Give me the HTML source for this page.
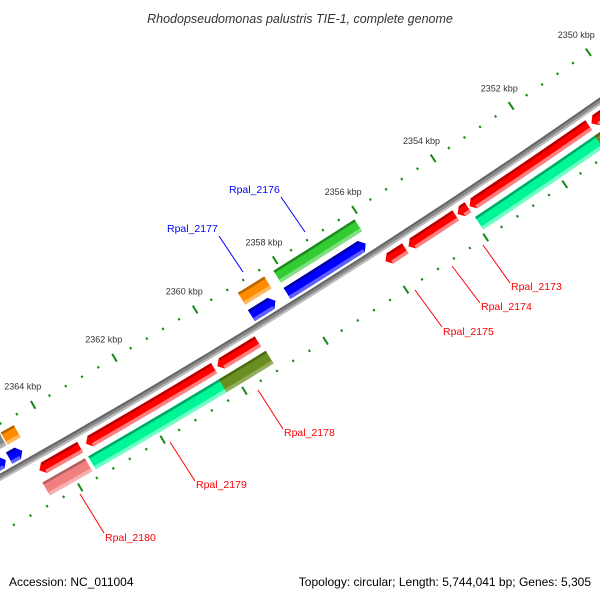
<!DOCTYPE html>
<html><head><meta charset="utf-8"><style>
html,body{margin:0;padding:0;background:#fff;}
svg{display:block;font-family:"Liberation Sans","DejaVu Sans",sans-serif;}
</style></head><body>
<svg id="map" width="600" height="600" viewBox="0 0 600 600" xmlns="http://www.w3.org/2000/svg">
<rect x="0" y="0" width="600" height="600" fill="#fff"/>
<text x="300" y="23" text-anchor="middle" font-size="12.5" font-style="italic" fill="#333">Rhodopseudomonas palustris TIE-1, complete genome</text>
<g id="ticks"></g>
<g id="backbone"></g>
<g id="features"></g>
<g id="labels" font-size="10.5">
<line x1="483" y1="245" x2="510" y2="283" stroke="#f00" stroke-width="1"/>
<text x="511" y="290" fill="#f00">Rpal_2173</text>
<line x1="452" y1="266" x2="480" y2="303" stroke="#f00" stroke-width="1"/>
<text x="481" y="310" fill="#f00">Rpal_2174</text>
<line x1="415" y1="290" x2="442" y2="327" stroke="#f00" stroke-width="1"/>
<text x="443" y="335" fill="#f00">Rpal_2175</text>
<line x1="258" y1="390" x2="283" y2="429" stroke="#f00" stroke-width="1"/>
<text x="284" y="436" fill="#f00">Rpal_2178</text>
<line x1="170" y1="442" x2="195" y2="481" stroke="#f00" stroke-width="1"/>
<text x="196" y="488" fill="#f00">Rpal_2179</text>
<line x1="80" y1="494" x2="104" y2="533" stroke="#f00" stroke-width="1"/>
<text x="105" y="541" fill="#f00">Rpal_2180</text>
<line x1="281" y1="197" x2="305" y2="232" stroke="#00f" stroke-width="1"/>
<text x="229" y="193" fill="#00f">Rpal_2176</text>
<line x1="219" y1="236" x2="243" y2="272" stroke="#00f" stroke-width="1"/>
<text x="167" y="232" fill="#00f">Rpal_2177</text>
</g>
<text x="9" y="586" font-size="12" fill="#000">Accession: NC_011004</text>
<text x="591" y="586" font-size="12" text-anchor="end" fill="#000">Topology: circular; Length: 5,744,041 bp; Genes: 5,305</text>
</svg>
<script>
// data (kbp)
const tickLabels = [2350, 2352, 2354, 2356, 2358, 2360, 2362, 2364];
const featStart = [2349.3, 2350.88, 2353.96, 2354.27, 2355.54, 2359.22, 2360.30, 2363.58,
  2349.3, 2350.91, 2359.18, 2360.34, 2363.61,
  2356.19, 2358.45, 2364.68, 2365.08,
  2356.11, 2358.38, 2364.57, 2364.92];
const featEnd = [2350.81, 2353.92, 2354.22, 2355.46, 2356.04, 2360.22, 2363.44, 2364.57,
  2350.91, 2353.95, 2360.34, 2363.53, 2364.64,
  2358.16, 2359.05, 2365.0, 2366.5,
  2358.15, 2359.04, 2364.89, 2366.5];
const featTrack = ['r','r','r','r','r','r','r','r','c','c','c','c','c','b','b','b','b','g','g','g','g'];
const featType = ['red','red','red','red','red','red','red','red','olive','cyan','olive','cyan','pink',
  'blue','blue','blue','blue','green','orange','orange','grey'];

// geometry
const CX = -3413, CY = -5634, RB = 7000;
const A0 = 57.19, DEG_PER_KBP = 0.3873;
const tracks = {r:[7007,7019,1], c:[7025,7040,0], b:[6981,6994,-1], g:[6961,6975,0]};
const colors = {red:['#ff0000','#b80000','#ff8080'], olive:['#6b8e23','#4c6a12','#93ad5a'],
  cyan:['#00f596','#00a868','#70ffc4'], pink:['#f08080','#b06060','#f8b0b0'],
  blue:['#0000ff','#0000a0','#6060ff'], green:['#33cc33','#1e8a1e','#7ee07e'],
  orange:['#ff8c00','#b86400','#ffb860'], grey:['#888888','#5c5c5c','#b0b0b0']};
const NS = 'http://www.w3.org/2000/svg';
function ang(k){ return (A0 + (k - 2356) * DEG_PER_KBP) * Math.PI / 180; }
function pt(k, r){ const a = ang(k); return [CX + r*Math.cos(a), CY + r*Math.sin(a)]; }
function f(p){ return p[0].toFixed(2)+' '+p[1].toFixed(2); }
function arcPath(k1, k2, r1, r2){
  return 'M'+f(pt(k1,r1))+' A'+r1+' '+r1+' 0 0 1 '+f(pt(k2,r1))+' L'+f(pt(k2,r2))+' A'+r2+' '+r2+' 0 0 0 '+f(pt(k1,r2))+' Z';
}
function mk(tag, attrs, parent){ const e = document.createElementNS(NS, tag); for (const k in attrs) e.setAttribute(k, attrs[k]); parent.appendChild(e); return e; }

// ticks
const tg = document.getElementById('ticks');
[RB-47, RB+48].forEach(function(rr, ri){
  for (let b = 2348000; b <= 2368000; b += 400){
    const k = b/1000;
    const major = (b % 2000) === 0;
    const h = major ? 4.5 : 1.2;
    const p1 = pt(k, rr-h), p2 = pt(k, rr+h);
    const ln = mk('line', {x1:p1[0], y1:p1[1], x2:p2[0], y2:p2[1], stroke:'#138a13', 'stroke-width': major?2:2}, tg);
    
    
  }
});
tickLabels.forEach(function(k){
  const p = pt(k, RB-47-21);
  const t = mk('text', {x:p[0], y:p[1]+3, 'text-anchor':'middle', 'font-size':'9', fill:'#333'}, tg);
  t.textContent = k + ' kbp';
  
  
});

// backbone
const bg = document.getElementById('backbone');
const bb = mk('path', {d: arcPath(2347, 2368, RB-3.5, RB+3), fill:'#8a8a8a'}, bg);


const bb1 = mk('path', {d: arcPath(2347, 2368, RB-3.5, RB-1.5), fill:'#666'}, bg);


const bb2 = mk('path', {d: arcPath(2347, 2368, RB+1, RB+3), fill:'#bdbdbd'}, bg);



// features
const fg = document.getElementById('features');
const HEAD = 0.11;
for (let i = 0; i < featStart.length; i++){
  const tr = tracks[featTrack[i]];
  const r1 = tr[0], r2 = tr[1], dir = tr[2], rm = (r1+r2)/2;
  const c = colors[featType[i]];
  const s = featStart[i], e = featEnd[i];
  let d, bs = s, be = e;
  if (dir === 1){
    be = e - HEAD;
    d = 'M'+f(pt(s,r1))+' A'+r1+' '+r1+' 0 0 1 '+f(pt(be,r1))+' L'+f(pt(e,rm))+' L'+f(pt(be,r2))+' A'+r2+' '+r2+' 0 0 0 '+f(pt(s,r2))+' Z';
  } else if (dir === -1){
    bs = s + HEAD;
    d = 'M'+f(pt(bs,r1))+' A'+r1+' '+r1+' 0 0 1 '+f(pt(e,r1))+' L'+f(pt(e,r2))+' A'+r2+' '+r2+' 0 0 0 '+f(pt(bs,r2))+' L'+f(pt(s,rm))+' Z';
  } else {
    d = arcPath(s, e, r1, r2);
  }
  const g = mk('g', {}, fg);
  
  
  mk('path', {d:d, fill:c[0]}, g);
  mk('path', {d:arcPath(bs, be, r1, r1+2.5), fill:c[1]}, g);
  mk('path', {d:arcPath(bs, be, r2-3.5, r2), fill:c[2]}, g);
}
</script>
</body></html>
